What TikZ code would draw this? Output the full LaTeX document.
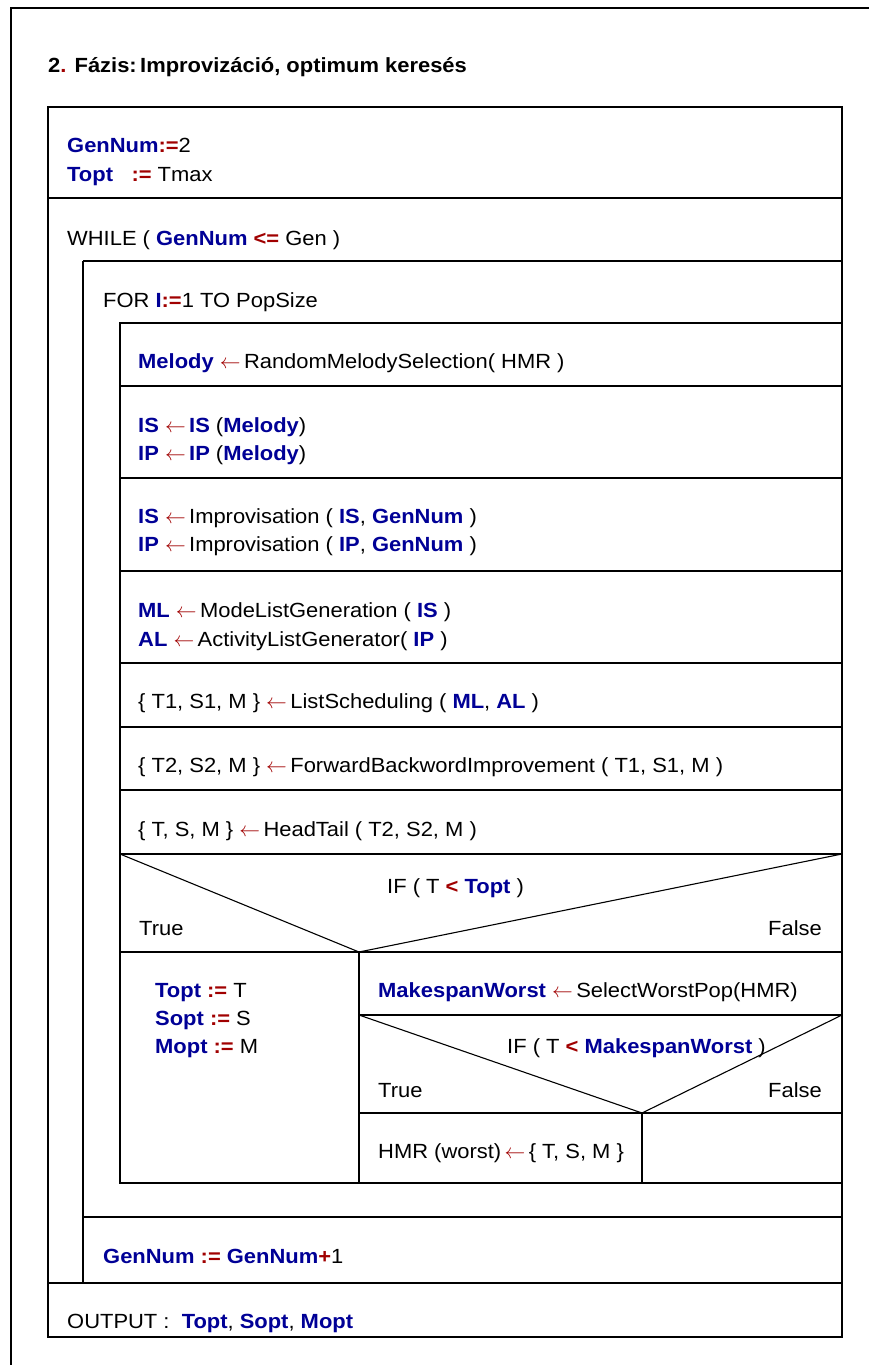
\documentclass[tikz,border=0pt]{standalone}
\usepackage{fontspec}
\setmainfont[FakeStretch=1.07]{Liberation Sans}
\definecolor{kblue}{RGB}{0,0,150}
\definecolor{kred}{RGB}{160,0,0}
\newcommand{\vb}[1]{\textcolor{kblue}{\bfseries #1}}
\newcommand{\op}[1]{\textcolor{kred}{\bfseries #1}}
\newcommand{\la}{\textcolor{kred}{$\leftarrow$}}
\tikzset{
  frame/.style={line width=1.4pt, black},
  thin/.style={line width=1.1pt, black},
  txt/.style={anchor=base west, inner sep=0pt, font=\fontsize{20.5}{24}\selectfont},
  txtr/.style={anchor=base east, inner sep=0pt, font=\fontsize{20.5}{24}\selectfont},
}
\begin{document}
\begin{tikzpicture}[x=1pt,y=-1pt]
\useasboundingbox (0,0) rectangle (869,1365);
% outer frame
\draw[frame] (11,1365) -- (11,8) -- (869,8);
% main box
\draw[frame] (48,107) rectangle (842,1337);
\draw[thin] (48,198) -- (842,198);
% FOR box
\draw[frame] (83,261) -- (842,261);
\draw[frame] (83,261) -- (83,1283);
\draw[frame] (83,1217) -- (842,1217);
\draw[frame] (48,1283) -- (842,1283);
% body
\draw[frame] (120,323) rectangle (842,1183);
\foreach \yy in {386,478,571,663,727,790,854}
  \draw[frame] (120,\yy) -- (842,\yy);
% IF
\draw[frame] (120,952) -- (842,952);
\draw[thin] (120,854) -- (359,952) -- (842,854);
\draw[frame] (359,952) -- (359,1183);
% nested
\draw[frame] (359,1015) -- (842,1015);
\draw[thin] (359,1015) -- (642,1113) -- (842,1015);
\draw[frame] (359,1113) -- (842,1113);
\draw[thin] (642,1113) -- (642,1183);

% texts
\node[txt] (title) at (48,72) {\bfseries 2\textcolor{kred}{.} Fázis:\,Improvizáció, optimum keresés};
\node[txt] (init1) at (67,152) {\vb{GenNum}\op{:=}2};
\node[txt] (init2) at (67,181) {\vb{Topt}\hspace{0.9em}\op{:=} Tmax};
\node[txt] (while) at (67,245) {WHILE ( \vb{GenNum} \op{<=} Gen )};
\node[txt] (for) at (103,307) {FOR \vb{I}\op{:=}1 TO PopSize};
\node[txt] (mel) at (138,368) {\vb{Melody} \la\,RandomMelodySelection( HMR )};
\node[txt] (is1) at (138,432) {\vb{IS} \la\,\vb{IS} (\vb{Melody})};
\node[txt] (ip1) at (138,460) {\vb{IP} \la\,\vb{IP} (\vb{Melody})};
\node[txt] (is2) at (138,523) {\vb{IS} \la\,Improvisation ( \vb{IS}, \vb{GenNum} )};
\node[txt] (ip2) at (138,551) {\vb{IP} \la\,Improvisation ( \vb{IP}, \vb{GenNum} )};
\node[txt] (ml) at (138,617) {\vb{ML} \la\,ModeListGeneration ( \vb{IS} )};
\node[txt] (al) at (138,646) {\vb{AL} \la\,ActivityListGenerator( \vb{IP} )};
\node[txt] (ls) at (138,708) {\{ T1, S1, M \} \la\,ListScheduling ( \vb{ML}, \vb{AL} )};
\node[txt] (fb) at (138,772) {\{ T2, S2, M \} \la\,ForwardBackwordImprovement ( T1, S1, M )};
\node[txt] (ht) at (138,836) {\{ T, S, M \} \la\,HeadTail ( T2, S2, M )};
\node[txt] (if1) at (387,893) {IF ( T \op{<} \vb{Topt} )};
\node[txt] (t1) at (139,935) {True};
\node[txtr] (f1) at (822,935) {False};
\node[txt] (to) at (155,997) {\vb{Topt} \op{:=} T};
\node[txt] (so) at (155,1025) {\vb{Sopt} \op{:=} S};
\node[txt] (mo) at (155,1053) {\vb{Mopt} \op{:=} M};
\node[txt] (mw) at (378,997) {\vb{MakespanWorst} \la\,SelectWorstPop(HMR)};
\node[txt] (if2) at (507,1053) {IF ( T \op{<} \vb{MakespanWorst} )};
\node[txt] (t2) at (378,1097) {True};
\node[txtr] (f2) at (822,1097) {False};
\node[txt] (hmr) at (378,1158) {HMR (worst)\,\la\,\{ T, S, M \}};
\node[txt] (inc) at (103,1263) {\vb{GenNum} \op{:=} \vb{GenNum}\op{+}1};
\node[txt] (out) at (67,1328) {OUTPUT :\ \ \vb{Topt}, \vb{Sopt}, \vb{Mopt}};
\end{tikzpicture}
\end{document}
